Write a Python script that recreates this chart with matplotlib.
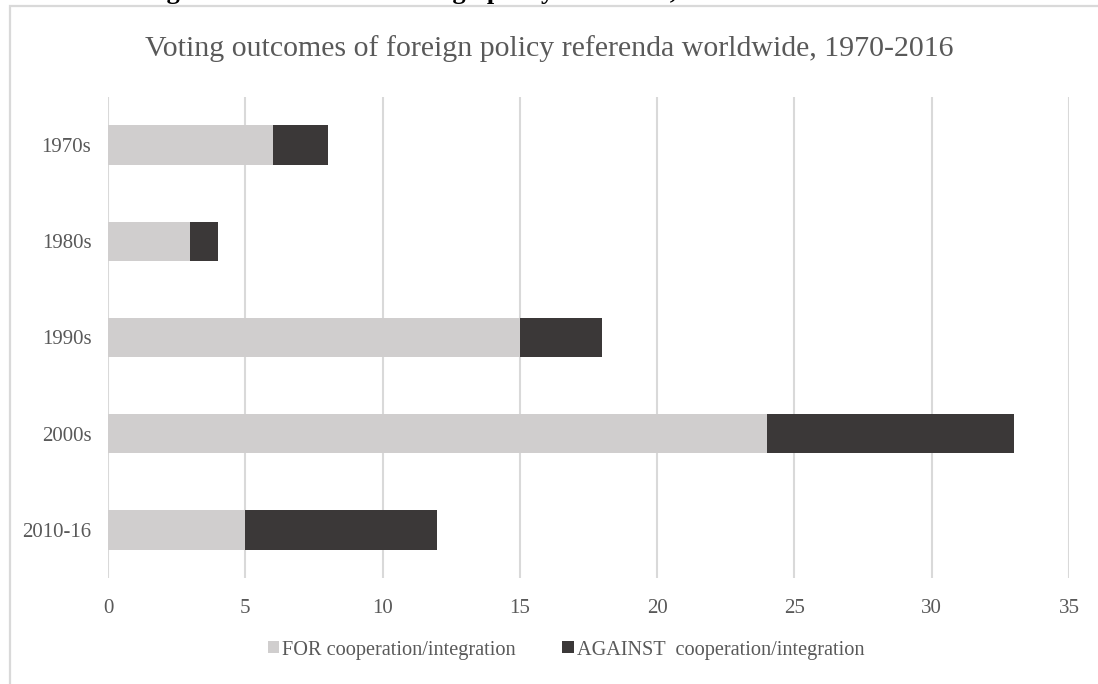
import matplotlib
matplotlib.use("Agg")
import matplotlib.pyplot as plt
from matplotlib.patches import Rectangle, Patch

categories = ["1970s", "1980s", "1990s", "2000s", "2010-16"]
for_vals = [6, 3, 15, 24, 5]
against_vals = [2, 1, 3, 9, 7]
xticks = [0, 5, 10, 15, 20, 25, 30, 35]
title = "Voting outcomes of foreign policy referenda worldwide, 1970-2016"
heading = "Figure 1: Outcomes of foreign policy referenda, 1970-2016"
series_names = ["FOR cooperation/integration", "AGAINST  cooperation/integration"]

FOR_C = "#D0CECE"
AG_C = "#3B3838"
TXT = "#595959"
GRID = "#D9D9D9"
FONT = ["Liberation Serif", "DejaVu Serif"]

W, H = 1098, 684
fig = plt.figure(figsize=(W / 100, H / 100), dpi=100)
fig.patch.set_facecolor("white")

# outer chart frame (cut off at right and bottom)
fig.patches.append(Rectangle((10 / W, -0.1), 1.2, (H - 6) / H + 0.1,
                             transform=fig.transFigure, fill=False,
                             edgecolor=GRID, linewidth=1.6))

# clipped heading at the very top
fig.text(0.13, 1.0 + 1 / H, heading, ha="left", va="baseline",
         fontsize=19, fontweight="bold", family=FONT, color="black")

ax = fig.add_axes([108 / W, 1 - 578 / H, (1069 - 108) / W, (578 - 97) / H])
y = list(range(len(categories)))
ax.barh(y, for_vals, height=0.41, color=FOR_C, label=series_names[0], zorder=3)
ax.barh(y, against_vals, left=for_vals, height=0.41, color=AG_C,
        label=series_names[1], zorder=3)
ax.set_ylim(len(categories) - 0.5, -0.5)
ax.set_xlim(0, 35)
ax.set_yticks(y)
ax.set_yticklabels(categories)
ax.set_xticks(xticks)
ax.set_xticklabels([str(t) for t in xticks])
for s in ax.spines.values():
    s.set_visible(False)
ax.grid(axis="x", color=GRID, linewidth=1.5, zorder=0)
ax.tick_params(axis="both", length=0, labelcolor=TXT, labelsize=15)
ax.tick_params(axis="y", pad=12)
ax.tick_params(axis="x", pad=15)
for lab in ax.get_xticklabels() + ax.get_yticklabels():
    lab.set_family(FONT)

fig.text(0.5, 1 - 49 / H, title, ha="center", va="center", fontsize=21.5,
         family=FONT, color=TXT)

handles = [Patch(facecolor=FOR_C, edgecolor="none"),
           Patch(facecolor=AG_C, edgecolor="none")]
leg = fig.legend(handles, series_names, loc="center", bbox_to_anchor=(566 / W, 1 - 650 / H),
                 ncol=2, frameon=False, handlelength=0.55, handleheight=0.55,
                 handletextpad=0.15, columnspacing=2.3,
                 prop={"family": FONT, "size": 14.6})
for t in leg.get_texts():
    t.set_color(TXT)

fig.savefig("out.png", dpi=100)
